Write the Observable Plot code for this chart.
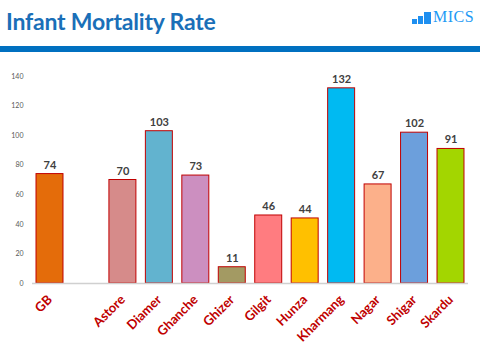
<!DOCTYPE html>
<html>
<head>
<meta charset="utf-8">
<script src="https://cdn.jsdelivr.net/npm/d3@7"></script>
<script src="https://cdn.jsdelivr.net/npm/@observablehq/plot@0.6"></script>
<style>
  html, body { margin: 0; padding: 0; background: #fff; }
  #page { position: relative; width: 480px; height: 360px; overflow: hidden; font-family: Lato, "Open Sans", sans-serif; }
  #title { position: absolute; left: 6px; top: 7px; font-size: 23px; font-weight: bold; color: #1a6fb8; letter-spacing: -0.2px; }
  #rule { position: absolute; left: 0; top: 46px; width: 480px; height: 6px; background: #0070c0; }
  #logo { position: absolute; left: 412px; top: 9px; height: 15px; display: flex; align-items: flex-end; }
  #logo .b { background: #1e8ff0; width: 5px; margin-right: 1px; }
  #logo .t { font-family: "Liberation Serif", "DejaVu Serif", serif; color: #1e9af5; font-size: 16px; line-height: 15px; margin-left: 1px; letter-spacing: 0.5px; }
  #chart { position: absolute; left: 0; top: 60px; }
</style>
</head>
<body>
<div id="page">
  <div id="title">Infant Mortality Rate</div>
  <div id="logo"><div class="b" style="height:5px"></div><div class="b" style="height:8px"></div><div class="b" style="height:12px;width:7px"></div><div class="t">MICS</div></div>
  <div id="rule"></div>
  <div id="chart"></div>
</div>
<script>
const categories = ["GB", "", "Astore", "Diamer", "Ghanche", "Ghizer", "Gilgit", "Hunza", "Kharmang", "Nagar", "Shigar", "Skardu"];
const districts = ["GB", "Astore", "Diamer", "Ghanche", "Ghizer", "Gilgit", "Hunza", "Kharmang", "Nagar", "Shigar", "Skardu"];
const rates = [74, 70, 103, 73, 11, 46, 44, 132, 67, 102, 91];
const barColors = ["#e46c0a", "#d68b8a", "#62b3cf", "#cc8fc0", "#a39a63", "#ff7c80", "#ffc000", "#00baf2", "#fcb08a", "#6c9fdc", "#a3d600"];
const yTicks = [0, 20, 40, 60, 80, 100, 120, 140];

const data = districts.map((d, i) => ({district: d, rate: rates[i]}));

const chart = Plot.plot({
  width: 480,
  height: 300,
  marginTop: 16,
  marginBottom: 77,
  marginLeft: 32,
  marginRight: 12,
  style: {fontFamily: "Lato, 'Open Sans', sans-serif", background: "#fff"},
  x: {domain: categories, paddingInner: 0.26, paddingOuter: 0.11, round: false, label: null},
  y: {domain: [0, 140], label: null},
  color: {domain: districts, range: barColors},
  marks: [
    Plot.barY(data, {x: "district", y: "rate", fill: "district", stroke: "#c00000", strokeWidth: 1}),
    Plot.ruleY([0], {stroke: "#d0d0d0", strokeWidth: 1.5}),
    Plot.text(data, {x: "district", y: "rate", text: d => String(d.rate), dy: -9, fontSize: 11, fontWeight: "bold", fill: "#404040"}),
    Plot.axisY({ticks: yTicks, tickSize: 0, tickPadding: 9, fontSize: 7, fill: "#595959"}),
    Plot.axisX({tickSize: 0, tickRotate: -45, tickPadding: 14, fontSize: 13, fontWeight: "bold", fill: "#c00000"})
  ]
});
document.getElementById("chart").appendChild(chart);
</script>
</body>
</html>
